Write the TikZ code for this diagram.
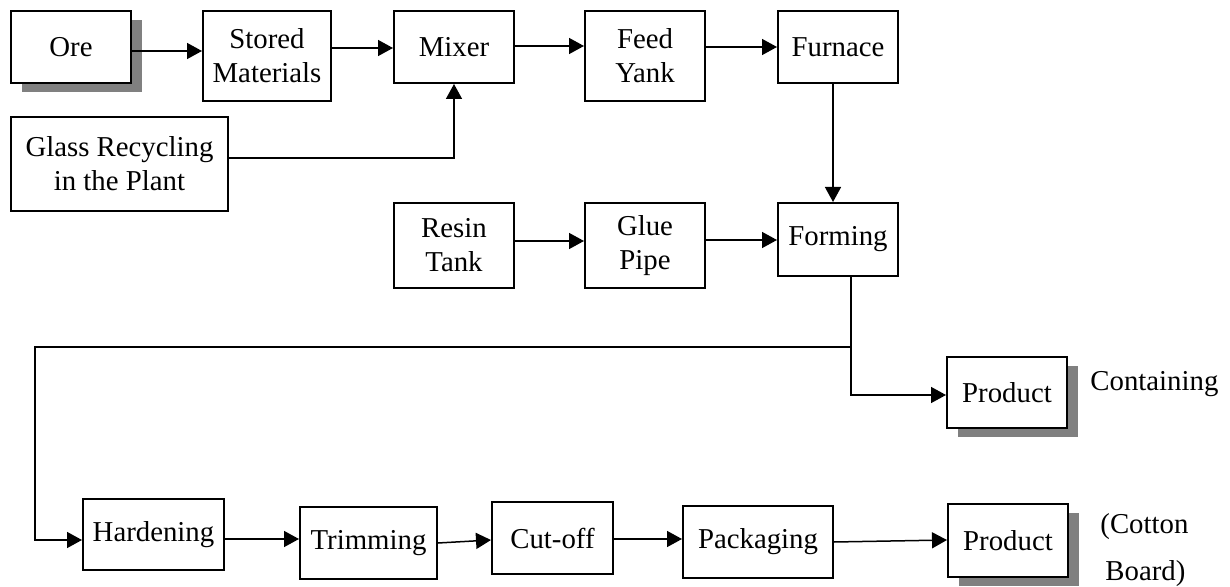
\documentclass[tikz,border=0pt]{standalone}
\usepackage{fontspec}
\setmainfont{Liberation Serif}
\usetikzlibrary{arrows.meta,shadows}
\begin{document}
\begin{tikzpicture}[x=0.5pt,y=-0.5pt,
  font=\fontsize{14.4}{17}\selectfont,
  box/.style={draw=black, line width=1pt, fill=white, inner sep=0pt, align=center},
  shadowbox/.style={box, drop shadow={shadow xshift=5.25pt, shadow yshift=-4.5pt, fill=black!50, opacity=1}},
  arr/.style={line width=0.75pt, -{Triangle[length=7.5pt,width=8pt]}},
  lbl/.style={inner sep=0pt, anchor=base west}]
\useasboundingbox (0,0) rectangle (1230,587);
\newcommand\pbox[7][box]{\node[#1, minimum width={(#5-#3)*0.5pt}, minimum height={(#6-#4)*0.5pt}] (#2) at ({(#3+#5)/2},{(#4+#6)/2}) {#7};}
\pbox[shadowbox]{ore}{11}{11}{131}{83}{Ore}
\pbox{stored}{203}{11}{331}{101}{Stored\\Materials}
\pbox{mixer}{394}{11}{514}{83}{Mixer}
\pbox{feed}{585}{11}{705}{101}{Feed\\Yank}
\pbox{furnace}{778}{11}{898}{83}{Furnace}
\pbox{glass}{11}{117}{228}{211}{Glass Recycling\\in the Plant}
\pbox{resin}{394}{203}{514}{288}{Resin\\Tank}
\pbox{glue}{585}{203}{705}{288}{Glue\\Pipe}
\pbox{forming}{778}{203}{898}{276}{Forming}
\pbox[shadowbox]{prod1}{947}{357}{1067}{428}{Product}
\pbox{hardening}{83}{499}{224}{570}{Hardening}
\pbox{trimming}{300}{507}{437}{579}{Trimming}
\pbox{cutoff}{492}{502}{613}{574}{Cut-off}
\pbox{packaging}{683}{506}{833}{578}{Packaging}
\pbox[shadowbox]{prod2}{948}{504}{1068}{577}{Product}
\node[lbl] (cont) at (1090,390) {Containing};
\node[lbl] (cot) at (1100,533) {(Cotton};
\node[lbl] (brd) at (1105,580) {Board)};
% connectors
\draw[arr] (ore.east |- 0,51) -- (stored.west |- 0,51);
\draw[arr] (stored.east |- 0,48) -- (mixer.west |- 0,48);
\draw[arr] (mixer.east |- 0,46) -- (feed.west |- 0,46);
\draw[arr] (feed.east |- 0,47) -- (furnace.west |- 0,47);
\draw[arr] (glass.east |- 0,158) -| (mixer.south);
\draw[arr] (furnace.south -| 833,0) -- (forming.north -| 833,0);
\draw[arr] (resin.east |- 0,241) -- (glue.west |- 0,241);
\draw[arr] (glue.east |- 0,240) -- (forming.west |- 0,240);
\coordinate (j) at (851,347);
\coordinate (l) at (35,347);
\draw[arr] (forming.south -| j) |- (prod1.west |- 0,395);
\draw[arr] (j) -- (l) |- (hardening.west |- 0,540);
\draw[arr] (hardening.east |- 0,539) -- (trimming.west |- 0,539);
\draw[arr] (trimming.east |- 0,543) -- (cutoff.west |- 0,540);
\draw[arr] (cutoff.east |- 0,539) -- (packaging.west |- 0,539);
\draw[arr] (packaging.east |- 0,542) -- (prod2.west |- 0,540);
\end{tikzpicture}
\end{document}
